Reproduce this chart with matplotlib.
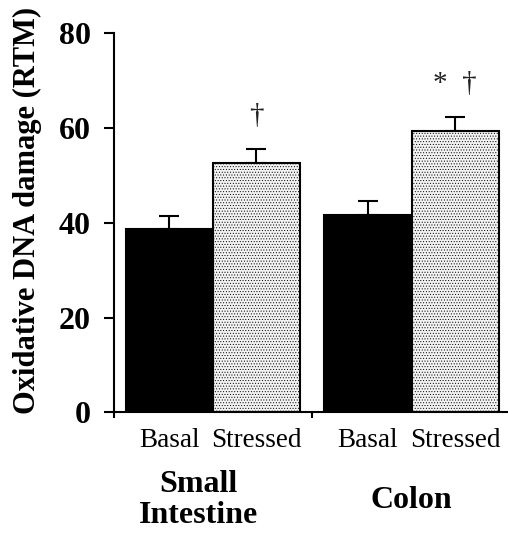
import matplotlib
matplotlib.use("Agg")
import matplotlib.pyplot as plt
import numpy as np

# values
groups = ["Small\nIntestine", "Colon"]
conditions = ["Basal", "Stressed"]
basal = [38.7, 41.6]
stressed = [52.6, 59.4]
basalErr = [2.8, 2.9]
stressedErr = [2.9, 2.9]
marks = ["\u2020", "*  \u2020"]

plt.rcParams["font.family"] = ["Liberation Serif", "DejaVu Serif"]

fig = plt.figure(figsize=(5.08, 5.33), dpi=100)
ax = fig.add_axes([0.225, 0.2265, 0.775, 0.711])

x = np.arange(len(groups))
w = 0.438

ax.bar(x - w / 2, basal, w, color="black", edgecolor="black", linewidth=1.5, zorder=2)
plt.rcParams["hatch.color"] = "#d0d0d0"
plt.rcParams["hatch.linewidth"] = 0.4
ax.bar(x + w / 2, stressed, w, color="#f2f2f2", edgecolor="black", linewidth=1.5,
       hatch="......", zorder=2)

ax.errorbar(x - w / 2, basal, yerr=[np.zeros(len(basal)), basalErr], fmt="none",
            ecolor="black", elinewidth=1.5, capsize=7, capthick=1.5, zorder=1)
ax.errorbar(x + w / 2, stressed, yerr=[np.zeros(len(stressed)), stressedErr], fmt="none",
            ecolor="black", elinewidth=1.5, capsize=7, capthick=1.5, zorder=1)

for i in range(len(groups)):
    ax.text(x[i] + w / 2, stressed[i] + stressedErr[i] + 4.3, marks[i], ha="center",
            va="bottom", fontsize=21, color="#222222")

ax.set_xlim(-0.495, 1.485)
ax.set_ylim(0, 80)
ax.set_yticks([0, 20, 40, 60, 80])
ax.tick_params(axis="y", labelsize=23, width=1.5, length=7, pad=10)
for lab in ax.get_yticklabels():
    lab.set_fontweight("bold")

ticks = np.concatenate([x - w / 2, x + w / 2])
ax.set_xticks(ticks)
ax.set_xticklabels(conditions[:1] * len(groups) + conditions[1:] * len(groups), fontsize=19.5)
ax.tick_params(axis="x", length=0, pad=11)
ax.set_xticks([-0.495, 0.5], minor=True)
ax.tick_params(axis="x", which="minor", length=4, width=1.5, direction="out")

for i, g in enumerate(groups):
    ax.text(x[i] - 0.07 * (1 - i), -0.232, g, transform=ax.get_xaxis_transform(),
            ha="center", va="center", fontsize=23, fontweight="bold", linespacing=1.1)

ax.spines["top"].set_visible(False)
ax.spines["right"].set_visible(False)
ax.spines["left"].set_linewidth(1.5)
ax.spines["bottom"].set_linewidth(1.5)

fig.text(0.055, 0.606, "Oxidative DNA damage (RTM)", rotation=90, ha="center", va="center",
         fontsize=22, fontweight="bold")

fig.savefig("out.png", dpi=100)
